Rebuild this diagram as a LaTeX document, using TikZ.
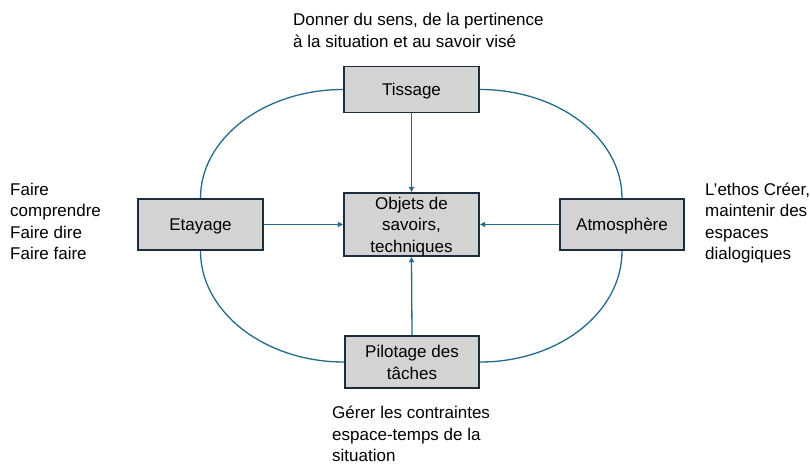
\documentclass[tikz,border=0pt]{standalone}
\usepackage{fontspec}
\setmainfont{Liberation Sans}
\usetikzlibrary{arrows.meta,calc}
\definecolor{boxfill}{HTML}{D3D3D3}
\definecolor{boxline}{HTML}{1C2E3D}
\definecolor{linecol}{HTML}{236A8C}
\begin{document}
\begin{tikzpicture}[x=1pt,y=-1pt,
  box/.style={draw=boxline, line width=1.6pt, fill=boxfill, align=center, inner sep=0pt,
    font=\fontsize{17}{21.5}\selectfont, text height=12.5pt, text depth=0pt},
  lbl/.style={align=left, inner sep=0pt, anchor=north west, font=\fontsize{17}{21.5}\selectfont},
  connector/.style={draw=linecol, line width=1.3pt},
  arr/.style={connector, -{Triangle[length=5pt,width=5pt]}}]
\useasboundingbox (0,0) rectangle (810,464);
% boxes
\node[box, minimum width=135.5pt, minimum height=46pt] (tis) at (411.5,89.5) {Tissage};
\node[box, minimum width=135.5pt, minimum height=63.5pt, text height=55.5pt] (obj) at (411.5,224.5) {Objets de\\savoirs,\\techniques};
\node[box, minimum width=125.5pt, minimum height=51.5pt] (eta) at (200.5,224.5) {Etayage};
\node[box, minimum width=124.5pt, minimum height=51.5pt] (atm) at (622,224.5) {Atmosphère};
\node[box, minimum width=134.5pt, minimum height=52.5pt, text height=34pt] (pil) at (412,362) {Pilotage des\\tâches};
% arrows to the centre
\draw[arr] (tis.south) -- (obj.north);
\draw[arr] (eta.east) -- (obj.west);
\draw[arr] (atm.west) -- (obj.east);
\draw[arr] (pil.north) -- (obj.south);
% ellipse arcs
\draw[connector] (tis.west) .. controls +(-78,0) and +(0,-60) .. (eta.north);
\draw[connector] (tis.east) .. controls +(78,0) and +(0,-60) .. (atm.north);
\draw[connector] (eta.south) .. controls +(0,61) and +(-79,0) .. (pil.west);
\draw[connector] (atm.south) .. controls +(0,61) and +(79,0) .. (pil.east);
% labels
\node[lbl] (ttop) at (293,13) {Donner du sens, de la pertinence\\à la situation et au savoir visé};
\node[lbl] (tleft) at (10,182.5) {Faire\\comprendre\\Faire dire\\Faire faire};
\node[lbl] (tright) at (705,182.5) {L’ethos Créer,\\maintenir des\\espaces\\dialogiques};
\node[lbl] (tbot) at (332,406) {Gérer les contraintes\\espace-temps de la\\situation};
\end{tikzpicture}
\end{document}
